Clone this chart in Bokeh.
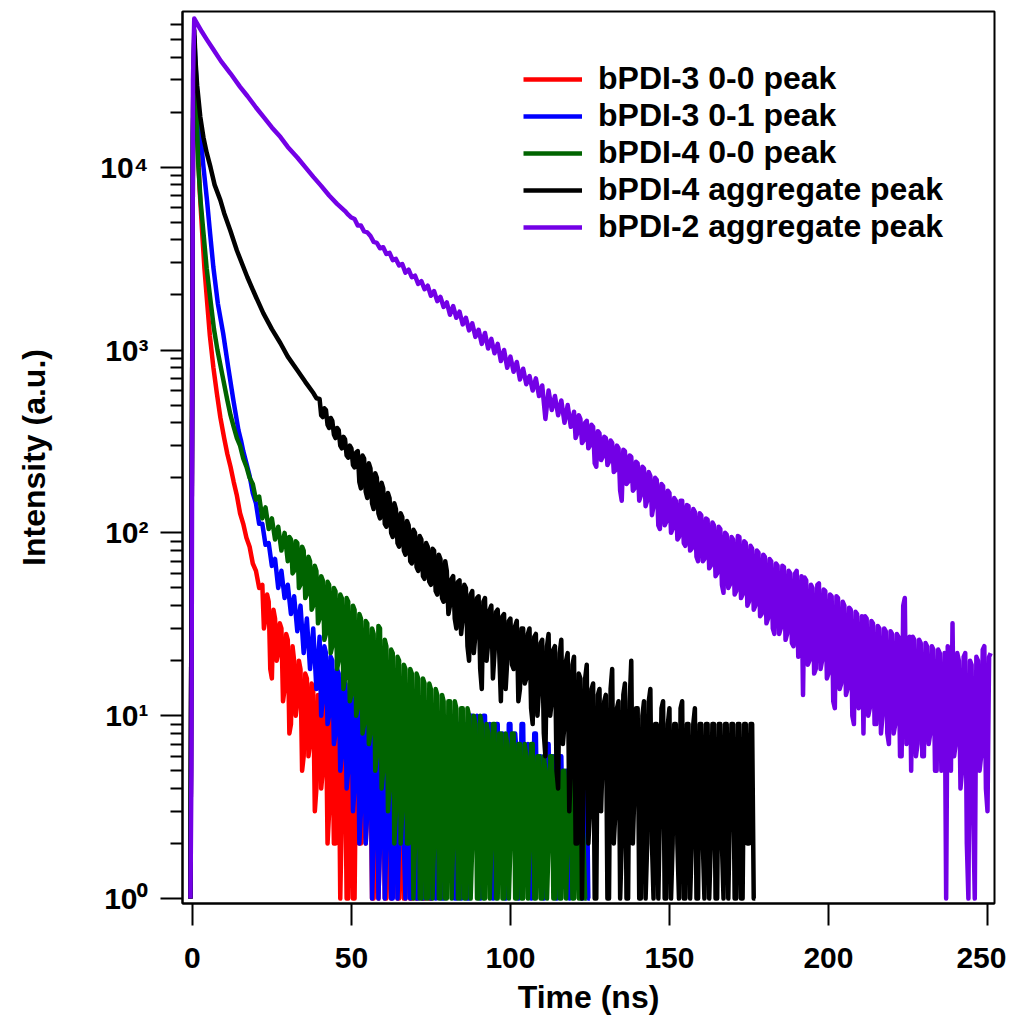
import numpy as np
from bokeh.plotting import figure
from bokeh.models import Range1d, FixedTicker, CustomJSTickFormatter
from bokeh.embed import file_html
from bokeh.resources import INLINE

# ---------------- data ----------------
series_names = ["bPDI-3 0-0 peak", "bPDI-3 0-1 peak", "bPDI-4 0-0 peak",
                "bPDI-4 aggregate peak", "bPDI-2 aggregate peak"]
series_colors = ["#FF0000", "#0000FF", "#006400", "#000000", "#7300E6"]

# Each decay: explicit early points, then counts on a 1 ns grid, plus counts on the
# half-ns grid in the noisy part of the tail.

# bPDI-3 0-0 peak (red)
red_t_head = [-0.6, 0.2, 0.6, 1.0, 1.6, 2.3, 3.1, 3.8, 4.6, 5.5, 6.6, 7.7, 8.8, 10.0, 11.0]
red_v_head = [1, 15000, 50000, 30000, 15300, 7500, 4350, 2800, 1870, 1200, 805, 580, 428, 330, 270]
red_tail_start = 12
red_v_tail = [230, 190, 160, 128, 112, 94, 84, 68, 62, 50,
              52, 34, 42, 16, 34, 22, 30, 14, 26, 9,
              20, 12, 18, 6, 16, 7, 14, 4, 12, 5,
              11, 3, 9, 2, 10, 3, 7, 1, 6, 1,
              8, 2, 5, 3, 6, 1, 5, 2, 5, 1,
              4, 2, 5, 1, 3, 1, 3, 1, 3, 2,
              3, 1, 3, 1, 1]
red_half_start = 22.5
red_v_half = [30, 46, 18, 38, 20, 32, 12, 28, 8, 24,
              10, 20, 5, 17, 6, 15, 3, 13, 4, 12,
              2, 10, 2, 9, 1, 8, 1, 7, 1, 7,
              2, 6, 2, 6, 1, 5, 1, 5, 1, 5,
              1, 4, 1, 4, 1, 3, 1, 3, 1, 3,
              1, 3, 1, 2]

# bPDI-3 0-1 peak (blue)
blue_t_head = [-0.6, 0.2, 0.6, 1.0, 1.6, 2.5, 3.5, 4.6, 5.6, 6.6, 8.0, 9.7, 11.3, 12.9, 14.5, 15.3]
blue_v_head = [1, 15000, 52000, 36000, 23000, 15300, 10000, 6600, 4300, 2840, 1800, 1230, 800, 531, 364, 320]
blue_tail_start = 16
blue_v_tail = [280, 240, 205, 165, 145, 112, 112, 86, 88, 66,
               72, 50, 62, 44, 52, 36, 45, 29, 40, 22,
               34, 18, 30, 14, 27, 12, 22, 10, 20, 8,
               17, 6, 15, 5, 14, 4, 13, 3, 12, 3,
               11, 2, 10, 2, 11, 2, 9, 1, 10, 2,
               8, 1, 9, 3, 8, 1, 9, 2, 7, 1,
               9, 2, 8, 1, 9, 3, 7, 1, 9, 2,
               8, 1, 10, 3, 9, 2, 10, 3, 8, 2,
               9, 3, 7, 2, 9, 3, 6, 2, 9, 3,
               5, 2, 8, 3, 5, 2, 7, 3, 5, 2,
               6, 3, 5, 2, 5, 3, 5, 2, 5, 1]
blue_half_start = 40.5
blue_v_half = [10, 24, 9, 21, 7, 18, 5, 16, 4, 15,
               3, 14, 2, 13, 2, 12, 1, 11, 1, 11,
               1, 10, 1, 10, 1, 9, 2, 9, 1, 9,
               1, 9, 1, 8, 2, 9, 1, 9, 1, 9,
               2, 8, 1, 9, 1, 9, 1, 10, 2, 10,
               1, 10, 2, 9, 1, 9, 2, 8, 1, 9,
               2, 8, 1, 9, 2, 7, 1, 8, 2, 6,
               1, 7, 2, 6, 1, 6, 2, 5, 1, 5,
               2, 5, 1, 5, 1]

# bPDI-4 0-0 peak (green)
green_t_head = [-0.6, 0.2, 0.6, 1.0, 1.5, 1.9, 2.6, 3.5, 4.5, 5.7, 6.8, 7.9, 9.5, 11.0, 12.0, 13.0, 14.0]
green_v_head = [1, 15000, 50000, 30000, 16000, 10000, 6500, 4350, 2800, 1870, 1300, 997, 720, 531, 440, 380, 330]
green_tail_start = 15
green_v_tail = [300, 255, 230, 200, 185, 152, 158, 120, 138, 105,
                120, 92, 108, 80, 100, 70, 92, 62, 88, 52,
                80, 46, 70, 40, 62, 34, 55, 28, 52, 24,
                48, 20, 44, 16, 42, 13, 38, 11, 34, 9,
                32, 8, 28, 6, 30, 5, 24, 4, 22, 3,
                20, 3, 18, 2, 17, 2, 16, 1, 15, 1,
                14, 2, 13, 1, 12, 1, 12, 2, 11, 1,
                11, 1, 10, 2, 9, 1, 9, 1, 8, 2,
                9, 1, 8, 1, 7, 2, 8, 1, 7, 1,
                6, 2, 7, 1, 6, 1, 5, 2, 6, 1,
                5, 1, 5, 2, 5, 1, 4, 1, 2, 1]
green_half_start = 30.5
green_v_half = [95, 60, 90, 50, 84, 44, 74, 38, 66, 32,
                58, 26, 54, 22, 50, 18, 46, 14, 44, 12,
                40, 10, 36, 8, 33, 7, 30, 5, 31, 4,
                26, 3, 23, 2, 21, 2, 19, 2, 18, 1,
                17, 1, 16, 1, 15, 1, 14, 1, 13, 1,
                12, 1, 12, 1, 11, 1, 11, 1, 10, 1,
                10, 1, 9, 1, 9, 1, 8, 1, 8, 1,
                8, 1, 7, 1, 7, 1, 7, 1, 6, 1,
                6, 1, 6, 1, 5, 1, 5, 1, 5, 1,
                4, 1, 3, 1]

# bPDI-4 aggregate peak (black)
black_t_head = [-0.6, 0.2, 0.6, 1.0, 1.5, 2.5, 3.5, 4.5, 5.7, 7.0, 8.8, 10.0, 11.9, 14.0,
                17.3, 20.0, 22.3, 25.0, 27.7, 30.0, 33.0, 35.5, 38.1]
black_v_head = [1, 20000, 56000, 38000, 28000, 18800, 14500, 12000, 10000, 8000, 6600, 5600, 4520, 3500,
                2500, 1950, 1590, 1300, 1089, 920, 775, 670, 580]
black_tail_start = 39
black_v_tail = [545,
                540, 430, 470, 375, 410, 330, 365, 290, 325, 258, 290, 228,
                280, 175, 255, 155, 225, 135, 200, 120, 175, 108, 155, 95, 135, 84,
                122, 76, 110, 68, 100, 62, 92, 56, 84, 52, 80, 46, 72, 42,
                62, 40, 58, 30, 55, 34, 50, 20, 48, 28,
                45, 14, 44, 25, 40, 22, 38, 12, 36, 20,
                34, 18, 33, 14, 30, 16, 30, 9, 28, 14,
                26, 6, 28, 12, 24, 4, 26, 9, 22, 5,
                21, 2, 16, 5, 19, 3, 15, 1, 14, 6,
                13, 1, 18, 3, 12, 2, 15, 1, 20, 4,
                11, 1, 12, 2, 14, 1, 9, 3, 12, 1,
                11, 2, 9, 1, 12, 1, 9, 2, 11, 1,
                9, 1, 9, 2, 9, 1, 9, 1, 9, 3,
                9, 1, 9, 1, 9, 2, 9, 1]
black_half_start = 40.5
black_v_half = [440, 480, 390, 425, 345, 375, 300, 335, 265, 300, 235, 275,
                190, 265, 168, 240, 145, 212, 128, 188, 112, 165, 100, 145, 88, 128,
                80, 116, 70, 104, 65, 96, 58, 88, 54, 82, 48, 76, 44, 70,
                36, 56, 34, 54, 28, 52, 24, 46, 22, 44,
                18, 42, 20, 38, 16, 37, 22, 35, 14, 33,
                19, 31, 12, 30, 15, 28, 11, 27, 10, 25,
                8, 24, 10, 23, 5, 22, 7, 20, 3, 19,
                2, 17, 1, 16, 2, 14, 1, 13, 3, 12,
                1, 14, 2, 11, 1, 13, 1, 12, 2, 11,
                1, 10, 1, 12, 2, 9, 1, 11, 1, 9,
                1, 9, 2, 11, 1, 9, 1, 9, 1, 9,
                2, 9, 1, 9, 1, 9, 2, 9, 1, 9,
                1, 9, 1, 9, 2, 9, 1]

# bPDI-2 aggregate peak (purple)
purple_t_head = [-0.6, -0.3, 0.2, 0.6, 1.5, 3.0, 4.5, 6.6, 9.0, 12.0, 15.0, 17.3, 20.0, 22.5,
                 25.0, 27.7, 30.0, 33.0, 35.5, 38.1, 40.5, 43.0, 45.5, 48.0]
purple_v_head = [1, 5, 30000, 65000, 61000, 55000, 50000, 44000, 38000, 32500, 27500, 24500, 21200, 18700,
                 16500, 14600, 12900, 11300, 10000, 8820, 7900, 7000, 6300, 5750]
purple_tail_start = 49
purple_v_tail = [5500, 5300,
                 5200, 4800, 4800, 4450, 4400, 4200, 3900, 3850, 3600,
                 3650, 3350, 3400, 3100, 3150, 2900, 2950, 2650, 2750, 2500,
                 2550, 2300, 2380, 2150, 2250, 1980, 2100, 1850, 1950, 1720, 1820,
                 1560, 1740, 1500, 1620, 1380, 1500, 1280, 1400, 1180, 1290,
                 1080, 1240, 1020, 1150, 960, 1080, 870, 1000, 800, 920, 760, 860, 690, 790, 650, 720,
                 600, 700, 560, 640, 420, 600, 470, 560, 440, 530, 400, 500, 380, 460, 350, 420,
                 320, 410, 300, 380, 230, 350, 260, 330, 245, 310, 220, 290, 150,
                 280, 190, 260, 175, 240, 160, 225, 150, 205, 140, 195, 105, 180, 115, 165, 105, 150, 95,
                 150, 85, 140, 82, 130, 70, 125, 72, 118, 66, 110, 60, 105, 47, 98, 52, 92, 48,
                 95, 46, 88, 42, 82, 40, 78, 36, 74, 34, 70, 28, 66, 30,
                 65, 28, 60, 24, 62, 22, 13, 55, 20, 50, 18, 53, 20, 48, 17, 45, 11, 44, 15, 40, 14,
                 38, 9, 36, 12, 8, 34, 11, 32, 9, 30, 10, 29, 7, 28, 9, 27, 6, 44, 8, 5,
                 26, 7, 25, 6, 24, 8, 23, 5, 22, 6, 1, 21, 32, 7, 20, 5, 22, 1, 19, 1,
                 20, 6, 24, 3, 22]
purple_half_start = 120.5
purple_v_half = [330, 440, 310, 400, 290, 390, 240, 360, 250, 335,
                 235, 320, 215, 300, 170, 285, 185, 265, 170, 245,
                 150, 230, 140, 215, 125, 200, 110, 185, 110, 170,
                 100, 155, 92, 150, 88, 142, 80, 135, 74, 128,
                 70, 120, 64, 114, 58, 108, 52, 100, 50, 95,
                 46, 96, 44, 90, 40, 85, 38, 80, 35, 76,
                 32, 72, 30, 68, 28, 66, 26, 62, 25, 60,
                 21, 58, 57, 19, 52, 17, 52, 18, 49, 16,
                 46, 12, 45, 14, 42, 13, 39, 10, 37, 11,
                 35, 35, 10, 33, 9, 31, 8, 30, 8, 29,
                 8, 28, 6, 40, 7, 27, 27, 6, 26, 6,
                 25, 7, 24, 5, 23, 5, 22, 24, 5, 6,
                 22, 4, 21, 2, 20, 3, 21, 5, 23, 4,
                 21]

x_ticks = [0, 50, 100, 150, 200, 250]
y_ticks = [1, 10, 100, 1000, 10000]


def build(t_head, v_head, tail_start, v_tail, half_start, v_half):
    t_tail = tail_start + np.arange(len(v_tail), dtype=float)   # 1 ns grid
    t_half = half_start + np.arange(len(v_half), dtype=float)   # half-ns grid
    t = np.concatenate([np.asarray(t_head, float), t_tail, t_half])
    v = np.concatenate([np.asarray(v_head, float), np.asarray(v_tail, float), np.asarray(v_half, float)])
    order = np.argsort(t, kind="stable")
    return t[order], v[order]


all_series = [
    build(red_t_head, red_v_head, red_tail_start, red_v_tail, red_half_start, red_v_half),
    build(blue_t_head, blue_v_head, blue_tail_start, blue_v_tail, blue_half_start, blue_v_half),
    build(green_t_head, green_v_head, green_tail_start, green_v_tail, green_half_start, green_v_half),
    build(black_t_head, black_v_head, black_tail_start, black_v_tail, black_half_start, black_v_half),
    build(purple_t_head, purple_v_head, purple_tail_start, purple_v_tail, purple_half_start, purple_v_half),
]

# ---------------- figure ----------------
FONT = "Liberation Sans"
p = figure(frame_width=812, frame_height=892, y_axis_type="log",
           x_range=Range1d(-3.1, 252.2), y_range=Range1d(0.94, 7.1e4),
           output_backend="svg", toolbar_location=None,
           min_border_left=182, min_border_top=11, min_border_right=12, min_border_bottom=100)
p.background_fill_color = "white"
p.border_fill_color = "white"
p.outline_line_color = "black"
p.outline_line_width = 2
p.xgrid.visible = False
p.ygrid.visible = False

for (tt, vv), name, col in zip(all_series, series_names, series_colors):
    p.line(tt, vv, line_color=col, line_width=4.5, line_join="round", legend_label=name)

# axes
minor = [m * 10 ** d for d in range(5) for m in range(2, 10) if m * 10 ** d < 7.0e4]
p.yaxis.ticker = FixedTicker(ticks=y_ticks, minor_ticks=minor)
p.yaxis.formatter = CustomJSTickFormatter(code="""
const sup = {"0": "\u2070", "1": "\u00b9", "2": "\u00b2", "3": "\u00b3", "4": "\u2074", "5": "\u2075"};
const e = Math.round(Math.log10(tick));
return "10" + sup[String(e)];
""")
p.xaxis.ticker = FixedTicker(ticks=x_ticks, minor_ticks=[])

for ax in (p.xaxis[0], p.yaxis[0]):
    ax.axis_line_color = "black"
    ax.axis_line_width = 2
    ax.major_tick_line_color = "black"
    ax.major_tick_line_width = 2
    ax.major_tick_out = 22
    ax.major_tick_in = 0
    ax.minor_tick_line_color = "black"
    ax.minor_tick_line_width = 2
    ax.minor_tick_out = 12
    ax.minor_tick_in = 0
    ax.major_label_text_font = FONT
    ax.major_label_text_font_style = "bold"
    ax.major_label_text_font_size = "30px"
    ax.major_label_text_color = "black"
    ax.axis_label_text_font = FONT
    ax.axis_label_text_font_style = "bold"
    ax.axis_label_text_font_size = "32px"
    ax.axis_label_text_color = "black"

p.xaxis.axis_label = "Time (ns)"
p.yaxis.axis_label = "Intensity (a.u.)"
p.xaxis.major_label_standoff = 22
p.xaxis.axis_label_standoff = 8
p.yaxis.major_label_standoff = 12
p.yaxis.axis_label_standoff = 45

lg = p.legend[0]
lg.location = (341, 658)
lg.border_line_color = None
lg.background_fill_alpha = 0
lg.label_text_font = FONT
lg.label_text_font_style = "bold"
lg.label_text_font_size = "32px"
lg.label_text_color = "black"
lg.glyph_width = 59
lg.glyph_height = 36
lg.label_height = 36
lg.spacing = 0
lg.padding = 0
lg.margin = 0
lg.label_standoff = 16

open("out.html", "w").write(file_html(p, INLINE))
